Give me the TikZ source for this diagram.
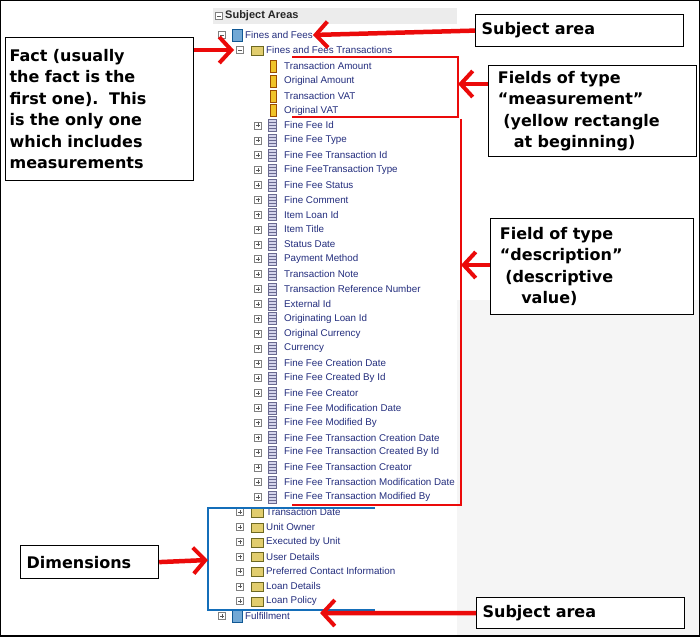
\documentclass[tikz,border=0pt]{standalone}
\usepackage{fontspec}
\setmainfont{DejaVu Sans}
\newfontfamily\treefont{Liberation Sans}
\usetikzlibrary{arrows.meta}
\definecolor{treeblue}{RGB}{35,45,125}
\definecolor{callred}{RGB}{235,10,10}
\definecolor{dimblue}{RGB}{20,110,185}
\definecolor{folderyel}{RGB}{225,205,110}
\definecolor{measyel}{RGB}{240,195,40}
\definecolor{desclav}{RGB}{150,150,205}
\tikzset{
  callout/.style={draw, line width=1.2pt, fill=white, font=\bfseries\fontsize{16}{21.5}\selectfont, align=left, inner sep=3pt},
  callarrow/.style={callred, line width=4.5pt, -{Straight Barb[length=12pt,width=26pt,line width=4pt]}},
  item/.style={anchor=west, inner sep=0pt, text=treeblue, font=\treefont\fontsize{9.8}{11}\selectfont},
  plusbox/.style={draw=gray, fill=white, line width=0.4pt, minimum size=7pt, inner sep=0pt}
}
% icons
\newcommand{\pluson}[1]{\node[plusbox] at (#1) {}; \draw[gray!70!black, line width=0.5pt] ($(#1)+(-2,0)$) -- ($(#1)+(2,0)$) ($(#1)+(0,-2)$) -- ($(#1)+(0,2)$);}
\newcommand{\minuson}[1]{\node[plusbox] at (#1) {}; \draw[gray!70!black, line width=0.5pt] ($(#1)+(-2,0)$) -- ($(#1)+(2,0)$);}
\newcommand{\foldericon}[1]{\draw[fill=folderyel, draw=olive!70!black, line width=0.4pt] ($(#1)+(-6,-4)$) rectangle ($(#1)+(6,5)$);}
\newcommand{\measicon}[1]{\draw[fill=measyel, draw=orange!60!black, line width=0.4pt] ($(#1)+(-3,-6)$) rectangle ($(#1)+(3,6)$);}
\newcommand{\descicon}[1]{\draw[fill=desclav!40, draw=desclav!70!black, line width=0.4pt] ($(#1)+(-4,-6)$) rectangle ($(#1)+(4,6)$);
  \foreach \k in {-3,0,3} \draw[desclav!70!black, line width=0.4pt] ($(#1)+(-4,\k)$) -- ($(#1)+(4,\k)$);}
\newcommand{\cubeicon}[1]{\draw[fill=dimblue!60, draw=dimblue!80!black, line width=0.4pt] ($(#1)+(-5,-6)$) rectangle ($(#1)+(5,6)$);}
\usetikzlibrary{calc}
\begin{document}
\begin{tikzpicture}[x=1pt, y=-1pt]
\useasboundingbox (0,0) rectangle (700,636);
\fill[white] (0,0) rectangle (700,636);
\fill[gray!8] (457,300) rectangle (700,636);
% tree panel
\fill[white] (213,8) rectangle (457,630);
\fill[gray!15] (213,8) rectangle (457,24);
\minuson{219,16}
\node[anchor=west, inner sep=0pt, text=gray!30!black, font=\treefont\bfseries\fontsize{11}{12}\selectfont] (head) at (225,16) {Subject Areas};
% subject area and fact
\minuson{222,35} \cubeicon{237,35}
\node[item] (area) at (245,35) {Fines and Fees};
\minuson{240,50} \foldericon{257,50}
\node[item] (fact) at (266,50) {Fines and Fees Transactions};
% measurements
\foreach \name [count=\i from 0] in {Transaction Amount, Original Amount, Transaction VAT, Original VAT} {
  \measicon{273,66+14.86*\i}
  \node[item] (m\i) at (284,66+14.86*\i) {\name};
}
% descriptions
\foreach \name [count=\i from 4] in {Fine Fee Id, Fine Fee Type, Fine Fee Transaction Id, Fine FeeTransaction Type, Fine Fee Status, Fine Comment, Item Loan Id, Item Title, Status Date, Payment Method, Transaction Note, Transaction Reference Number, External Id, Originating Loan Id, Original Currency, Currency, Fine Fee Creation Date, Fine Fee Created By Id, Fine Fee Creator, Fine Fee Modification Date, Fine Fee Modified By, Fine Fee Transaction Creation Date, Fine Fee Transaction Created By Id, Fine Fee Transaction Creator, Fine Fee Transaction Modification Date, Fine Fee Transaction Modified By} {
  \pluson{258,66+14.86*\i}
  \descicon{272,66+14.86*\i}
  \node[item] (d\i) at (284,66+14.86*\i) {\name};
}
% dimensions
\foreach \name [count=\i from 0] in {Transaction Date, Unit Owner, Executed by Unit, User Details, Preferred Contact Information, Loan Details, Loan Policy} {
  \pluson{240,512+14.86*\i}
  \foldericon{257,512+14.86*\i}
  \node[item] (t\i) at (266,512+14.86*\i) {\name};
}
\pluson{222,616} \cubeicon{237,616}
\node[item] (area2) at (245,616) {Fulfillment};
% group frames
\draw[callred, line width=1.8pt] (292,57) -- (458,57) -- (458,117) -- (292,117);
\draw[callred, line width=1.8pt] (461,119) -- (461,505) -- (292,505);
\draw[dimblue, line width=2pt] (375,508) -- (208,508) -- (208,610) -- (375,610);
\coordinate (measedge) at (458,84);
\coordinate (descedge) at (461,265);
\coordinate (dimedge) at (208,560);
% callouts
\node[callout, minimum height=32pt, anchor=north west, text width=196pt, inner xsep=6pt] (lblarea) at (475,14) {Subject area};
\node[callout, minimum width=188pt, minimum height=143pt, anchor=north west, text width=180pt] (lblfact) at (5,37) {Fact (usually\\ the fact is the\\ first one).\ \ This\\ is the only one\\ which includes\\ measurements};
\node[callout, minimum width=208pt, minimum height=91pt, anchor=north west, text width=200pt] (lblmeas) at (488,65) {\ Fields of type\\ \ \textquotedblleft measurement\textquotedblright\\ \ \ (yellow rectangle\\ \ \ \ \ at beginning)};
\node[callout, minimum width=203pt, minimum height=96pt, anchor=north west, text width=195pt] (lbldesc) at (490,218) {\ Field of type\\ \ \textquotedblleft description\textquotedblright\\ \ \ (descriptive\\ \ \ \ \ \ value)};
\node[callout, minimum height=33pt, anchor=north west, text width=126pt, inner xsep=6pt] (lbldim) at (20,545) {Dimensions};
\node[callout, minimum height=31pt, anchor=north west, text width=196pt, inner xsep=6pt] (lblarea2) at (476,597) {Subject area};
% arrows
\draw[callarrow] (lblarea.west) -- (area.east);
\draw[callarrow] (lblfact.east |- fact) -- ($(fact.west)+(-32,0)$);
\draw[callarrow] (lblmeas.west |- measedge) -- (measedge);
\draw[callarrow] (lbldesc.west |- descedge) -- (descedge);
\draw[callarrow] (lbldim.east) -- (dimedge);
\draw[callarrow] (lblarea2.west) -- ($(area2.east)+(30,-3)$);
\draw[line width=1.5pt] (0,0) rectangle (700,636);
\end{tikzpicture}
\end{document}
